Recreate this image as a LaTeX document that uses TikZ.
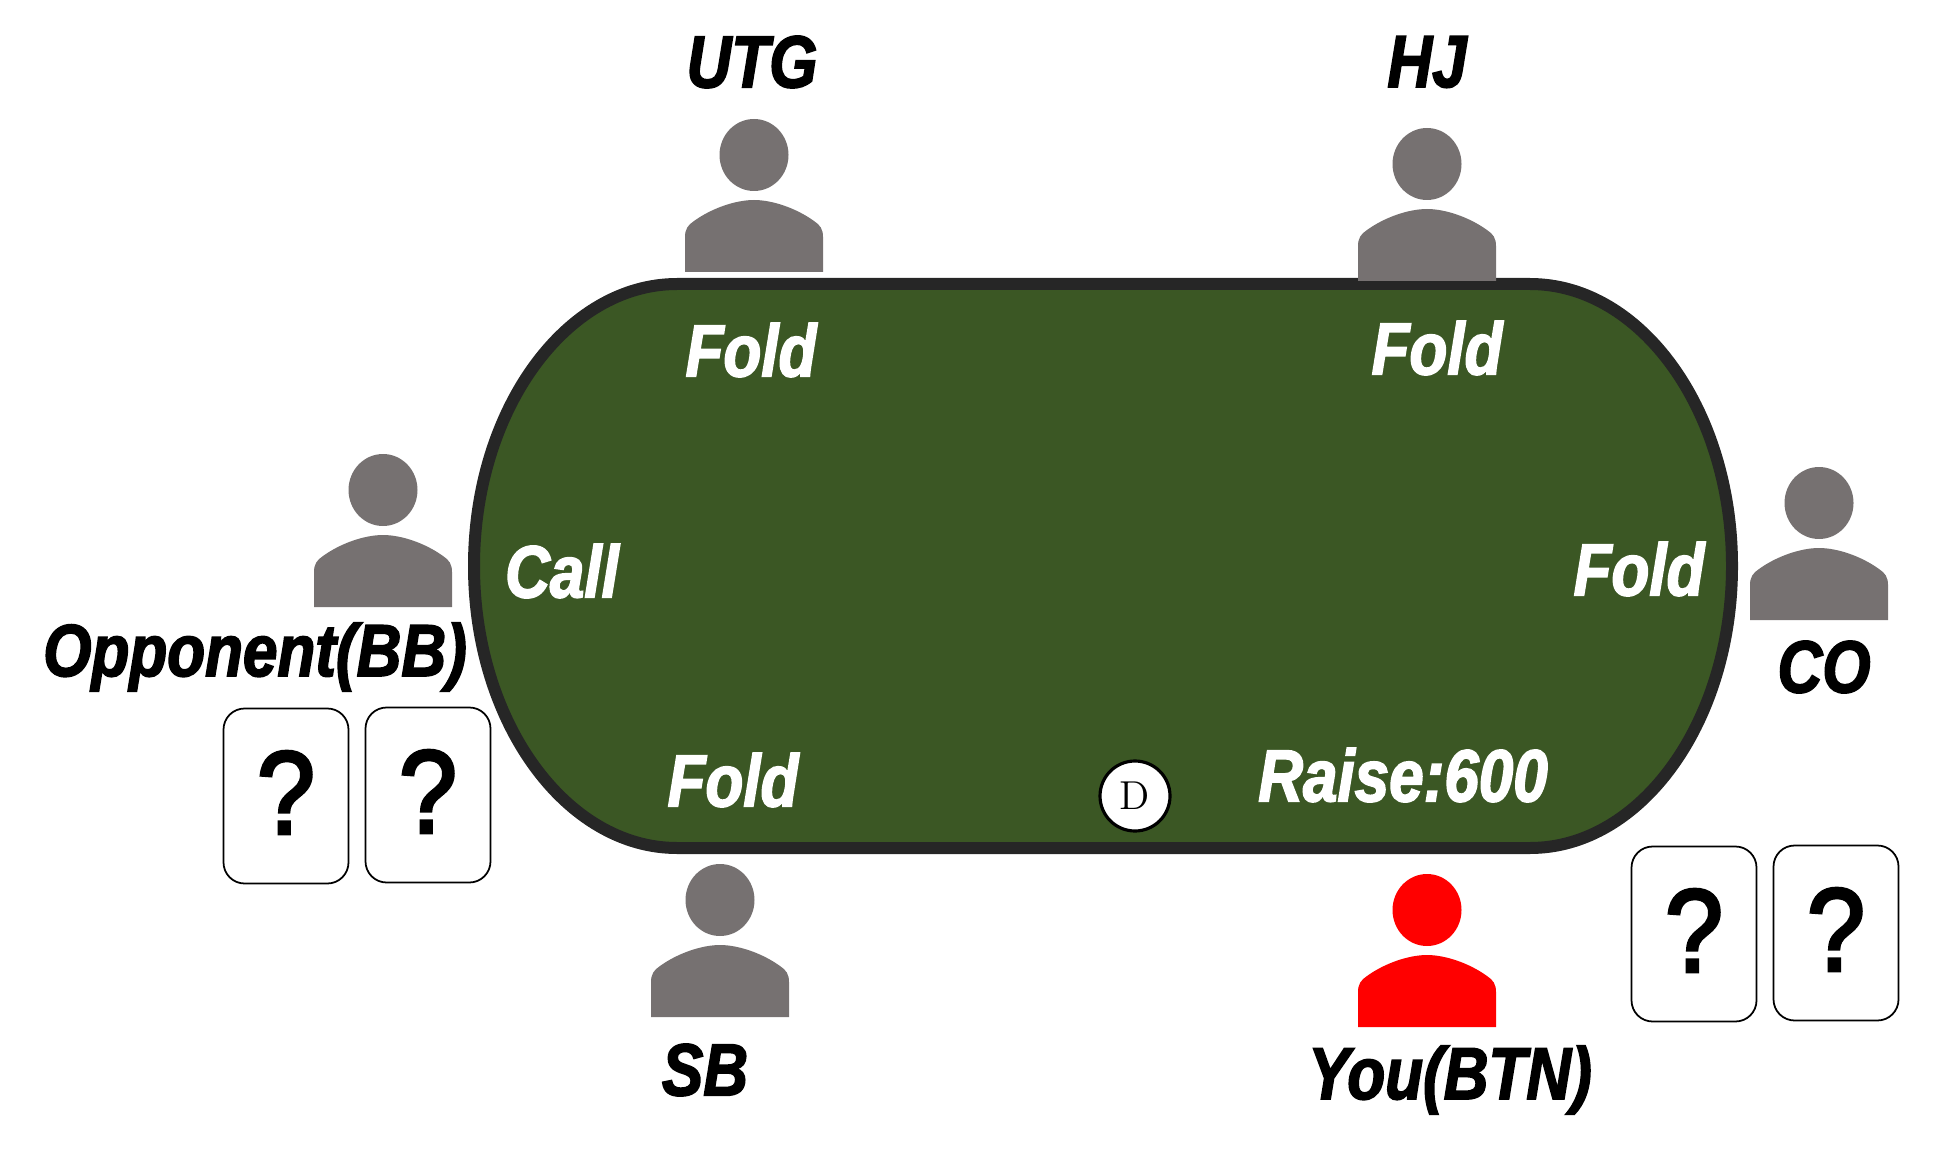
\documentclass[tikz,border=0pt]{standalone}
\usepackage{fontspec}
\usepackage{tikz}
\usetikzlibrary{shapes.geometric}
\newfontfamily\seatfont[FakeStretch=0.84,FakeBold=2.2]{Liberation Sans}
\newfontfamily\cardfont[FakeStretch=0.88,FakeBold=3]{Liberation Sans}
\tikzstyle{seat}=[font=\seatfont\bfseries\itshape\fontsize{21}{25}\selectfont,inner sep=0pt]
\tikzstyle{action}=[seat,text=white]
\tikzstyle{card}=[draw,rounded corners=6pt,line width=0.5pt,minimum width=125*0.1mm,minimum height=175*0.1mm,inner sep=0pt,font=\cardfont\fontsize{33.5}{33.5}\selectfont]
\tikzstyle{chip}=[draw,fill=white,circle,line width=0.9pt,minimum size=70*0.1mm,inner sep=0pt,font=\fontsize{11.5}{11.5}\selectfont]
\tikzset{person/.pic={
  \fill[pic actions] (0,0) ellipse [x radius=34.5,y radius=36];
  \fill[pic actions] (-69,117) -- (-69,82) .. controls (-69,74) and (-66,70) .. (-60,66)
    .. controls (-42,53) and (-18,45) .. (0,45) .. controls (18,45) and (42,53) .. (60,66)
    .. controls (66,70) and (69,74) .. (69,82) -- (69,117) -- cycle;
}}
\definecolor{felt}{HTML}{3B5724}
\definecolor{rim}{HTML}{262626}
\definecolor{body}{HTML}{767171}
\begin{document}
\begin{tikzpicture}[x=0.1mm,y=-0.1mm]
\useasboundingbox (0,0) rectangle (1947,1154);
% table
\draw[fill=felt,draw=rim,line width=12*0.1mm] (677,284) -- (1530,284)
  .. controls (1641,284) and (1732,410) .. (1732,566)
  .. controls (1732,722) and (1641,848) .. (1530,848) -- (677,848)
  .. controls (566,848) and (474,722) .. (474,566)
  .. controls (474,410) and (566,284) .. (677,284) -- cycle;
% players
\pic[fill=body] at (754,155) {person};
\pic[fill=body] at (1427,164) {person};
\pic[fill=body] at (383,490) {person};
\pic[fill=body] at (1819,503) {person};
\pic[fill=body] at (720,900) {person};
\pic[fill=red] at (1427,910) {person};
% names
\node[seat] (utg) at (752,62) {UTG};
\node[seat] (hj) at (1427,62) {HJ};
\node[seat] (bb) at (255,657) {Opponent(BB)};
\node[seat] (co) at (1824,667) {CO};
\node[seat] (sb) at (705,1070) {SB};
\node[seat] (btn) at (1450,1080) {You(BTN)};
% actions
\node[action] (utgact) at (751,350) {Fold};
\node[action] (hjact) at (1437,348) {Fold};
\node[action] (coact) at (1639,569) {Fold};
\node[action] (sbact) at (733,780) {Fold};
\node[action] (bbact) at (562,571) {Call};
\node[action] (btnact) at (1403,775) {Raise:600};
\node[chip] (dealer) at (1135,796) {D};
% cards
\node[card] (bb1) at (286,796) {\raisebox{2pt}{?}};
\node[card] (bb2) at (428,795) {\raisebox{2pt}{?}};
\node[card] (btn1) at (1694,934) {\raisebox{2pt}{?}};
\node[card] (btn2) at (1836,933) {\raisebox{2pt}{?}};
\end{tikzpicture}
\end{document}
